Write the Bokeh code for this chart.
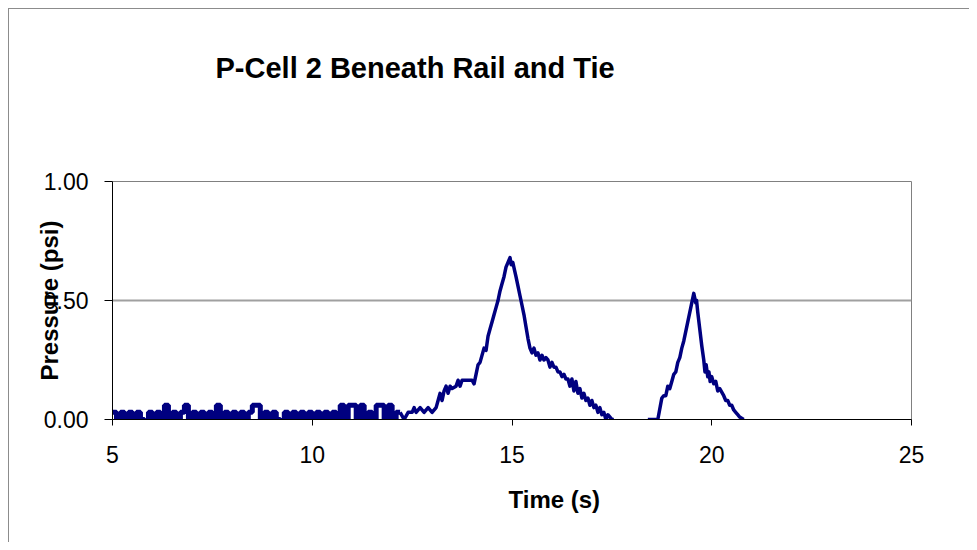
from bokeh.plotting import figure
from bokeh.models import FixedTicker, PrintfTickFormatter, Title, LinearAxis
from bokeh.embed import file_html
from bokeh.resources import INLINE

# ---------------- data ----------------
title_text = "P-Cell 2 Beneath Rail and Tie"
x_title = "Time (s)"
y_title = "Pressure (psi)"
x_ticks = [5, 10, 15, 20, 25]
y_ticks = [0.0, 0.5, 1.0]

# quiet baseline before the first pulse (quantised readings)
base_t = [5.0, 5.1, 5.2, 5.3, 5.4, 5.5, 5.6, 5.7, 5.8, 5.9,
          6.0, 6.1, 6.2, 6.3, 6.4, 6.5, 6.6, 6.7, 6.8, 6.9,
          7.0, 7.1, 7.2, 7.3, 7.4, 7.5, 7.6, 7.7, 7.8, 7.9,
          8.0, 8.1, 8.2, 8.3, 8.4, 8.5, 8.6, 8.7, 8.8, 8.9,
          9.0, 9.1, 9.2, 9.3, 9.4, 9.5, 9.6, 9.7, 9.8, 9.9,
          10.0, 10.1, 10.2, 10.3, 10.4, 10.5, 10.6, 10.7, 10.8, 10.9,
          11.0, 11.1, 11.2, 11.3, 11.4, 11.5, 11.6, 11.7, 11.8, 11.9,
          12.0, 12.1, 12.2]
base_p = [0.03, 0.0, 0.03, 0.0, 0.03, 0.0, 0.03, 0.0, -0.01, 0.03,
          0.0, 0.03, 0.0, 0.06, 0.0, 0.03, 0.0, 0.03, 0.06, 0.0,
          0.03, 0.0, 0.03, 0.0, 0.03, 0.0, 0.06, 0.0, 0.03, 0.0,
          0.03, 0.0, 0.03, 0.0, 0.03, 0.06, 0.06, 0.0, 0.03, 0.0,
          0.03, 0.0, -0.01, 0.03, 0.0, 0.03, 0.0, 0.03, 0.0, 0.03,
          0.0, 0.03, 0.0, 0.03, 0.0, 0.03, -0.01, 0.06, 0.0, 0.06,
          0.06, 0.0, 0.06, 0.0, 0.03, 0.0, 0.06, 0.06, 0.0, 0.06,
          0.0, 0.03, 0.03]

# first pulse
pulse1_t = [12.2, 12.3, 12.4, 12.5, 12.55, 12.6, 12.7, 12.8, 12.9, 13.0, 13.1,
            13.15, 13.2, 13.25, 13.3, 13.35, 13.4, 13.45, 13.5, 13.6, 13.65,
            13.7, 13.75, 13.9, 14.0, 14.05, 14.1, 14.15, 14.2, 14.3, 14.35,
            14.4, 14.45, 14.5, 14.55, 14.6, 14.65, 14.7, 14.75, 14.8, 14.85,
            14.9, 14.95, 14.98, 15.02, 15.06, 15.1, 15.15, 15.2, 15.25, 15.3,
            15.35, 15.4, 15.45, 15.5, 15.55, 15.6, 15.65, 15.7, 15.75, 15.8,
            15.85, 15.9, 15.95, 16.0, 16.05, 16.1, 16.15, 16.2, 16.25, 16.3,
            16.35, 16.4, 16.45, 16.5, 16.55, 16.6, 16.65, 16.7, 16.75, 16.8,
            16.85, 16.9, 16.95, 17.0, 17.05, 17.1, 17.15, 17.2, 17.25, 17.3,
            17.35, 17.4, 17.5, 17.55]
pulse1_p = [0.03, 0.0, 0.03, 0.03, 0.05, 0.03, 0.05, 0.03, 0.05, 0.03, 0.05,
            0.08, 0.11, 0.08, 0.12, 0.14, 0.11, 0.14, 0.13, 0.14, 0.165,
            0.14, 0.165, 0.165, 0.165, 0.15, 0.19, 0.23, 0.24, 0.30, 0.29,
            0.35, 0.38, 0.41, 0.44, 0.47, 0.50, 0.54, 0.57, 0.60, 0.64,
            0.66, 0.68, 0.65, 0.66, 0.63, 0.60, 0.56, 0.52, 0.48, 0.44,
            0.39, 0.34, 0.30, 0.28, 0.30, 0.27, 0.28, 0.25, 0.27, 0.25,
            0.26, 0.25, 0.22, 0.24, 0.22, 0.22, 0.20, 0.20, 0.18, 0.19,
            0.17, 0.17, 0.14, 0.17, 0.12, 0.16, 0.11, 0.13, 0.09, 0.11,
            0.08, 0.09, 0.06, 0.08, 0.05, 0.06, 0.03, 0.05, 0.02, 0.03,
            0.0, 0.02, 0.0, 0.0]

# second pulse
pulse2_t = [18.4, 18.65, 18.75, 18.8, 18.85, 18.9, 18.95, 19.0, 19.05, 19.1,
            19.15, 19.2, 19.25, 19.3, 19.35, 19.4, 19.45, 19.5, 19.55, 19.6,
            19.62, 19.65, 19.7, 19.75, 19.8, 19.83, 19.86, 19.9, 19.93, 19.96,
            20.0, 20.05, 20.1, 20.15, 20.2, 20.3, 20.35, 20.4, 20.45, 20.5,
            20.55, 20.6, 20.65, 20.7, 20.8]
pulse2_p = [0.0, 0.0, 0.09, 0.10, 0.10, 0.14, 0.13, 0.16, 0.19, 0.20,
            0.24, 0.26, 0.30, 0.33, 0.37, 0.41, 0.45, 0.49, 0.53, 0.49,
            0.50, 0.45, 0.38, 0.31, 0.25, 0.20, 0.23, 0.18, 0.20, 0.16,
            0.18, 0.15, 0.16, 0.12, 0.13, 0.10, 0.08, 0.08, 0.06, 0.06,
            0.04, 0.03, 0.02, 0.01, 0.0]

# ---------------- figure ----------------
FONT = "Liberation Sans"
LINE_COLOR = "#000080"

p = figure(width=961, height=534, x_range=(5, 25), y_range=(0, 1),
           output_backend="svg", toolbar_location=None,
           min_border_left=103, min_border_right=59,
           min_border_top=172, min_border_bottom=124)
p.styles = {"margin-left": "8px", "margin-top": "8px",
            "border-top": "1px solid #8c8c8c", "border-left": "1px solid #8c8c8c"}
p.background_fill_color = "white"
p.border_fill_color = "white"
p.outline_line_color = "#808080"
p.outline_line_width = 1

p.step(base_t, base_p, mode="after", line_color=LINE_COLOR, line_width=5)
p.line(pulse1_t, pulse1_p, line_color=LINE_COLOR, line_width=3.5, line_join="round")
p.line(pulse2_t, pulse2_p, line_color=LINE_COLOR, line_width=3.5, line_join="round")

# grid
p.xgrid.visible = False
p.ygrid.ticker = FixedTicker(ticks=[t for t in y_ticks if t > 0])
p.ygrid.grid_line_color = "#a0a0a0"
p.ygrid.grid_line_width = 2

# axes
for ax in (p.xaxis[0], p.yaxis[0]):
    ax.axis_line_color = "black"
    ax.axis_line_width = 1
    ax.major_tick_line_color = "black"
    ax.major_tick_in = 0
    ax.minor_tick_line_color = None
    ax.major_label_text_font = FONT
    ax.major_label_text_font_size = "23px"
    ax.major_label_text_color = "black"

p.xaxis.ticker = FixedTicker(ticks=x_ticks)
p.xaxis.major_tick_out = 6
p.xaxis.major_label_standoff = 20

p.yaxis.ticker = FixedTicker(ticks=y_ticks)
p.yaxis.formatter = PrintfTickFormatter(format="%.2f")
p.yaxis.major_tick_out = 8
p.yaxis.major_label_standoff = 16
p.yaxis.axis_label = y_title
p.yaxis.axis_label_text_font = FONT
p.yaxis.axis_label_text_font_size = "24px"
p.yaxis.axis_label_text_font_style = "bold"
p.yaxis.axis_label_text_color = "black"
p.yaxis.axis_label_standoff = -22

# spacer above the frame: a blank axis whose single white tick reserves room,
# so the plot title (which sits outside it) is lifted to where the reference has it
spacer = LinearAxis(ticker=FixedTicker(ticks=[x_ticks[0]]),
                    major_tick_out=93, major_tick_in=0,
                    minor_tick_out=0, minor_tick_in=0,
                    major_tick_line_color="white", minor_tick_line_color=None,
                    axis_line_color=None, major_label_standoff=0,
                    major_label_text_font_size="1px",
                    major_label_text_color=None,
                    major_label_overrides={x_ticks[0]: ""})
p.add_layout(spacer, "above")

# chart title
p.title.text = title_text
p.title.text_font = FONT
p.title.text_font_size = "29px"
p.title.text_font_style = "bold"
p.title.text_color = "black"
p.title.align = "left"
p.title.offset = 103
p.title.standoff = 10

# x axis title
p.add_layout(Title(text=x_title, text_font=FONT, text_font_size="24px",
                   text_font_style="bold", text_color="black",
                   align="left", offset=396, standoff=36), "below")

open("out.html", "w").write(file_html(p, INLINE))
